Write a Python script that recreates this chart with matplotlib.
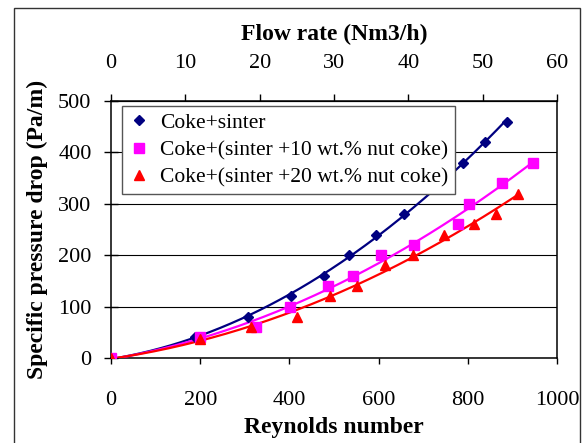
import numpy as np
import matplotlib
matplotlib.use('Agg')
import matplotlib.pyplot as plt
from matplotlib.patches import Rectangle

# data
re_sinter = [0, 188, 307, 403, 478, 534, 594, 657, 725, 790, 839, 887]
dp_sinter = [0, 40, 80, 120, 160, 200, 240, 280, 330, 380, 420, 460]

re_nut10 = [0, 200, 325, 401, 486, 543, 605, 679, 777, 803, 876, 947]
dp_nut10 = [0, 40, 60, 100, 140, 160, 200, 220, 260, 300, 340, 380]

re_nut20 = [0, 200, 313, 418, 491, 551, 614, 678, 747, 815, 863, 913]
dp_nut20 = [0, 37, 60, 80, 120, 140, 180, 200, 240, 260, 280, 320]

labels = ['Coke+sinter', 'Coke+(sinter +10 wt.% nut coke)', 'Coke+(sinter +20 wt.% nut coke)']
colors = ['#000080', '#FF00FF', '#FF0000']
markers = ['D', 's', '^']
msizes = [5, 6.5, 7]

plt.rcParams['font.family'] = ['Liberation Serif', 'DejaVu Serif']

fig = plt.figure(figsize=(5.85, 4.43), dpi=100)
ax = fig.add_axes([111/585, 85/443, 446/585, 257/443])

series = [(re_sinter, dp_sinter), (re_nut10, dp_nut10), (re_nut20, dp_nut20)]
handles = []
for (x, y), c, m, ms, lab in zip(series, colors, markers, msizes, labels):
    x = np.array(x, float)
    y = np.array(y, float)
    # trendline (2nd order) like the spreadsheet
    p = np.polyfit(x, y, 2)
    xx = np.linspace(0, x.max(), 200)
    ax.plot(xx, np.polyval(p, xx), color=c, lw=1.6, zorder=3)
    h, = ax.plot(x, y, ls='none', marker=m, color=c, ms=ms, label=lab, zorder=4)
    handles.append(h)

ax.set_xlim(0, 1000)
ax.set_ylim(0, 500)
ax.set_xticks(np.arange(0, 1001, 200))
ax.set_yticks(np.arange(0, 501, 100))
ax.yaxis.grid(True, color='black', lw=0.8)
ax.set_axisbelow(True)
for s in ax.spines.values():
    s.set_linewidth(1.1)

ax.tick_params(axis='x', direction='out', length=4.5, width=1, labelsize=16, pad=19.5, top=False)
ax.tick_params(axis='y', direction='inout', length=10, width=1, labelsize=16, pad=9, right=False)

ax.set_xlabel('Reynolds number', fontsize=17, fontweight='bold', labelpad=5)
ax.set_ylabel('Specific pressure drop (Pa/m)', fontsize=17, fontweight='bold', labelpad=7)

sec = ax.secondary_xaxis('top', functions=(lambda r: r * 0.06, lambda f: f / 0.06))
sec.set_xticks(np.arange(0, 61, 10))
sec.tick_params(direction='out', length=5, width=1, labelsize=16, pad=15)
sec.set_xlabel('Flow rate (Nm3/h)', fontsize=17, fontweight='bold', labelpad=10)

leg = ax.legend(handles=handles, loc='upper left', bbox_to_anchor=(0.024, 0.98),
                borderaxespad=0, fontsize=15.5, frameon=True, fancybox=False,
                framealpha=1, handlelength=1.0, handletextpad=0.5, labelspacing=0.35,
                borderpad=0.3, numpoints=1)
leg.get_frame().set_edgecolor('#555555')
leg.get_frame().set_linewidth(1)
leg.set_zorder(5)

# outer frame of the figure
fig.add_artist(Rectangle((14/585, -0.05), 566/585, 1.05 - 8/443, transform=fig.transFigure,
                         fill=False, edgecolor='#333333', lw=1))

fig.savefig('out.png', dpi=100)
